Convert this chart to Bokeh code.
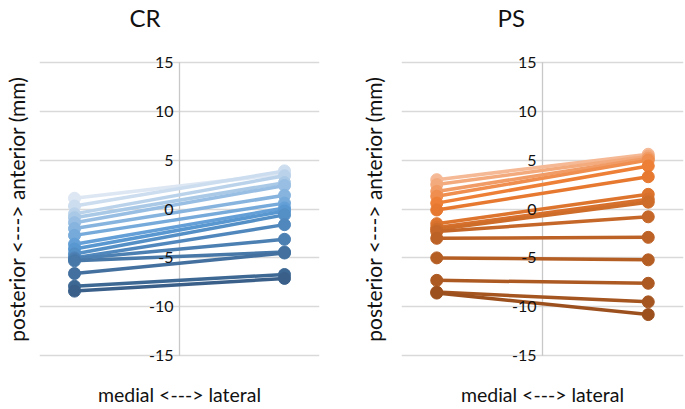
from bokeh.plotting import figure
from bokeh.models import Range1d, Grid, FixedTicker, Title, ColumnDataSource, LinearAxis
from bokeh.layouts import row
from bokeh.core.properties import value
from bokeh.embed import file_html
from bokeh.resources import INLINE

# ---- data ----
categories = ["medial", "lateral"]
x_pos = [-3, 3]
y_ticks = [-15, -10, -5, 0, 5, 10, 15]
y_tick_labels = ["-15", "-10", "-5", "0", "5", "10", "15"]

cr_medial = [1.1, 0.3, -0.5, -0.9, -1.4, -2.0, -2.7, -3.6, -4.1, -4.6, -5.0, -5.1, -5.3, -6.6, -7.9, -8.4]
cr_lateral = [3.6, 3.9, 3.4, 2.7, 2.4, 1.4, 0.6, 0.1, -0.2, -0.6, -1.6, -3.1, -4.4, -4.5, -6.7, -7.1]

ps_medial = [3.0, 2.5, 1.8, 1.3, 0.6, -0.1, -1.5, -1.9, -2.1, -2.3, -3.0, -5.0, -7.3, -8.5, -8.6]
ps_lateral = [5.6, 5.4, 5.2, 5.0, 4.4, 3.3, 1.5, 1.0, 0.7, -0.8, -2.9, -5.2, -7.6, -9.5, -10.8]

FONT = "Lato"
TXT = "#111111"


def ramp(stops, n):
    out = []
    for i in range(n):
        t = i / (n - 1)
        for (p0, c0), (p1, c1) in zip(stops[:-1], stops[1:]):
            if p0 <= t <= p1:
                f = (t - p0) / (p1 - p0) if p1 > p0 else 0
                c = tuple(int(round(a + (b - a) * f)) for a, b in zip(c0, c1))
                out.append("#%02x%02x%02x" % c)
                break
    return out


blue_pal = ramp([(0.0, (221, 231, 243)), (0.5, (91, 155, 213)), (1.0, (58, 96, 138))], len(cr_medial))
orange_pal = ramp([(0.0, (245, 185, 150)), (0.3, (237, 125, 49)), (1.0, (156, 80, 30))], len(ps_medial))


def bare_axis(**kw):
    return LinearAxis(ticker=FixedTicker(ticks=[]), axis_line_color=None,
                      major_tick_line_color=None, minor_tick_line_color=None,
                      major_tick_in=0, minor_tick_in=0, minor_tick_out=0, major_tick_out=0,
                      major_label_standoff=0, major_label_text_font_size="0px",
                      axis_label_text_font=FONT, axis_label_text_font_style="normal",
                      axis_label_text_color=TXT, **kw)


def spacer_axis(size):
    # an empty axis whose (white, invisible) tick reserves space above the frame
    return LinearAxis(ticker=FixedTicker(ticks=[0]), axis_line_color=None,
                      major_tick_out=size, major_tick_in=0, major_tick_line_color="white",
                      minor_tick_line_color=None, minor_tick_in=0, minor_tick_out=0,
                      major_label_standoff=0, major_label_overrides={0: ""},
                      major_label_text_font_size="0px")


def panel(name, medial, lateral, palette, width, left, right, title_off, ylab_standoff):
    p = figure(width=width, height=409, x_range=Range1d(-4.0, 4.0), y_range=Range1d(-15.6, 15.6),
               x_axis_location=None, y_axis_location=None, title=None,
               output_backend="svg", toolbar_location=None,
               min_border_left=left, min_border_right=right,
               min_border_top=56, min_border_bottom=48,
               outline_line_color=None, background_fill_color="white",
               border_fill_color="white")
    p.xgrid.visible = False
    p.ygrid.visible = False
    p.add_layout(Grid(dimension=1, ticker=FixedTicker(ticks=y_ticks),
                      grid_line_color="#d9d9d9", grid_line_width=1.3))
    # vertical value axis through the middle
    p.segment(x0=[0], y0=[y_ticks[0]], x1=[0], y1=[y_ticks[-1]],
              line_color="#c8c8c8", line_width=1.3)
    for m, l, c in zip(medial, lateral, palette):
        p.line(x=x_pos, y=[m, l], line_color=c, line_width=3.5)
        p.scatter(x=x_pos, y=[m, l], size=12, marker="circle",
                  fill_color=c, line_color=c)
    src = ColumnDataSource(dict(x=[0] * len(y_ticks), y=y_ticks, t=y_tick_labels))
    p.text(x="x", y="y", text="t", source=src, text_align="right", text_baseline="middle",
           x_offset=-6, text_font=value(FONT), text_font_size="16px", text_color=TXT)

    # axis titles
    p.add_layout(bare_axis(axis_label="medial <---> lateral",
                           axis_label_standoff=21, axis_label_text_font_size="19.5px"), "below")
    p.add_layout(bare_axis(axis_label="posterior <---> anterior (mm)",
                           axis_label_standoff=ylab_standoff, axis_label_text_font_size="21px"), "left")
    # spacer nearest the frame, then the chart title further out
    p.add_layout(spacer_axis(25), "above")
    p.add_layout(Title(text=name, align="left", offset=title_off, standoff=0,
                       text_font=FONT, text_font_size="24px", text_font_style="normal",
                       text_color=TXT), "above")
    return p


p1 = panel("CR", cr_medial, cr_lateral, blue_pal, 340, 37, 21, 90, 11)
p2 = panel("PS", ps_medial, ps_lateral, orange_pal, 345, 61, 2, 96, 16)

layout = row(p1, p2)
open("out.html", "w").write(file_html(layout, INLINE))
